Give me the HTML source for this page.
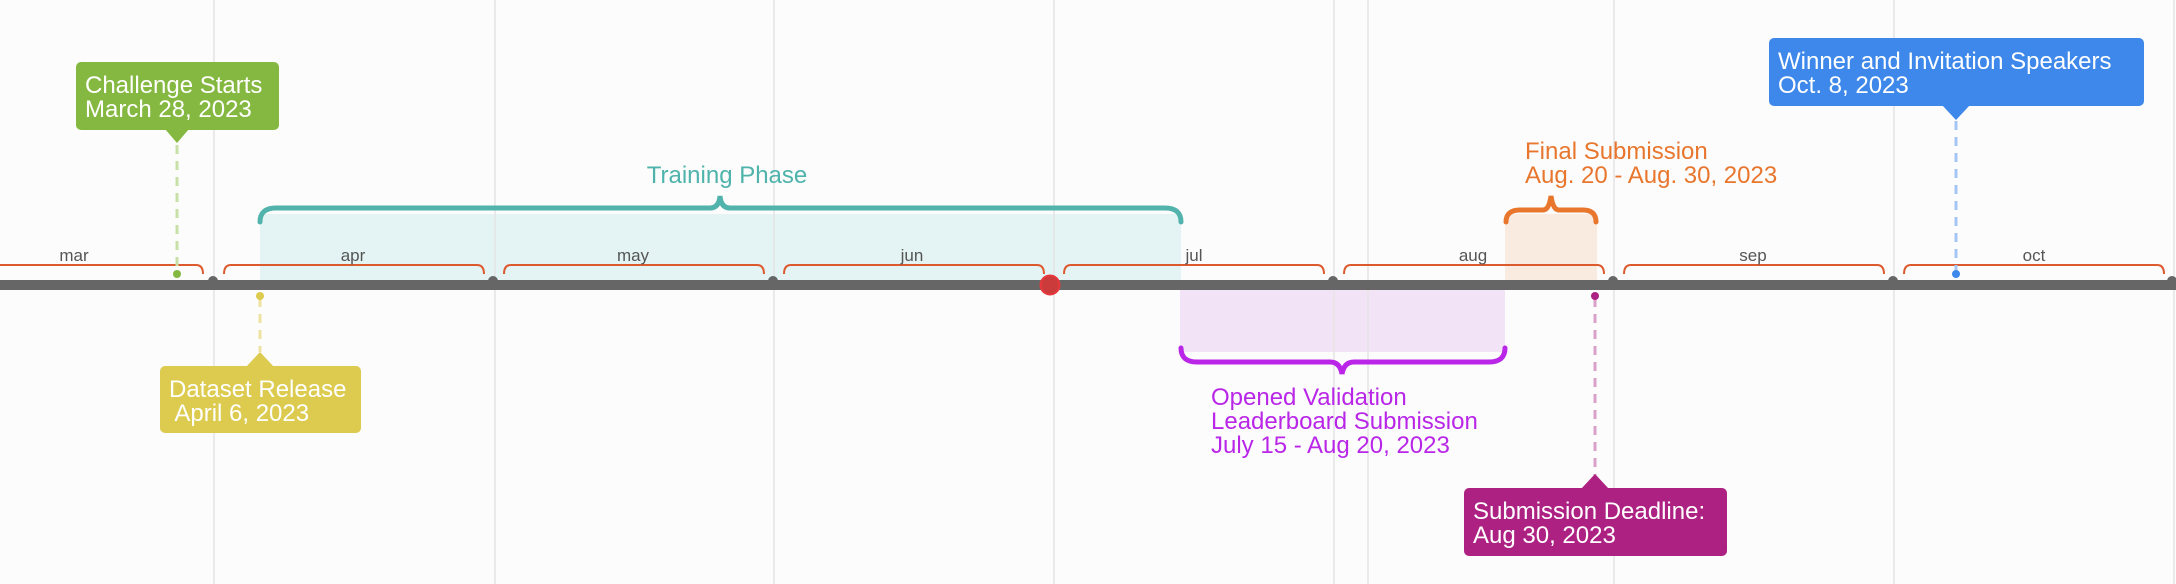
<!DOCTYPE html>
<html><head><meta charset="utf-8"><style>
html,body{margin:0;padding:0;background:#fcfcfc;}
svg{display:block}
text{font-family:"Liberation Sans",sans-serif;}
</style></head><body>
<svg width="2176" height="584" viewBox="0 0 2176 584" xmlns="http://www.w3.org/2000/svg">
<rect width="2176" height="584" fill="#fcfcfc"/>
<!-- fills -->
<rect x="260" y="214" width="921" height="66" fill="#e4f4f4"/>
<rect x="1505" y="214" width="92" height="66" fill="#f9ebe0"/>
<rect x="1180" y="290" width="325" height="62" fill="#f2e3f7"/>
<!-- grid -->
<g stroke="#e4e4e4" stroke-width="1.5">
<line x1="214" y1="0" x2="214" y2="584"/><line x1="495" y1="0" x2="495" y2="584"/>
<line x1="774" y1="0" x2="774" y2="584"/><line x1="1054" y1="0" x2="1054" y2="584"/>
<line x1="1334" y1="0" x2="1334" y2="584"/><line x1="1368" y1="0" x2="1368" y2="584"/>
<line x1="1614" y1="0" x2="1614" y2="584"/><line x1="1894" y1="0" x2="1894" y2="584"/>
<line x1="2174" y1="0" x2="2174" y2="584"/>
</g>
<!-- month braces -->
<g fill="none" stroke="#dd5a2f" stroke-width="2">
<path d="M0 265 H196 Q203 265 203 274"/>
<path d="M224 274 Q224 265 231 265 H477 Q484 265 484 274"/>
<path d="M504 274 Q504 265 511 265 H757 Q764 265 764 274"/>
<path d="M784 274 Q784 265 791 265 H1037 Q1044 265 1044 274"/>
<path d="M1064 274 Q1064 265 1071 265 H1317 Q1324 265 1324 274"/>
<path d="M1344 274 Q1344 265 1351 265 H1597 Q1604 265 1604 274"/>
<path d="M1624 274 Q1624 265 1631 265 H1877 Q1884 265 1884 274"/>
<path d="M1904 274 Q1904 265 1911 265 H2157 Q2164 265 2164 274"/>
</g>
<g font-size="17" fill="#555" text-anchor="middle">
<text x="74" y="261">mar</text><text x="353" y="261">apr</text><text x="633" y="261">may</text>
<text x="912" y="261">jun</text><text x="1194" y="261">jul</text><text x="1473" y="261">aug</text>
<text x="1753" y="261">sep</text><text x="2034" y="261">oct</text>
</g>
<!-- bar -->
<rect x="0" y="280" width="2176" height="10" fill="#666"/>
<g fill="#666">
<circle cx="213" cy="281" r="5"/><circle cx="493" cy="281" r="5"/><circle cx="773" cy="281" r="5"/>
<circle cx="1333" cy="281" r="5"/><circle cx="1613" cy="281" r="5"/><circle cx="1893" cy="281" r="5"/><circle cx="2172" cy="281" r="5"/>
</g>
<circle cx="1050" cy="285" r="9.5" fill="#cc3b3b" stroke="#e8383d" stroke-width="2"/>
<!-- training brace -->
<path d="M260 222 Q260 208 276 208 H710 Q719 208 720 196 Q721 208 730 208 H1165 Q1181 208 1181 222" fill="none" stroke="#52b3ac" stroke-width="5" stroke-linecap="round"/>
<text x="727" y="183" font-size="24" fill="#4db3ab" text-anchor="middle">Training Phase</text>
<!-- final brace -->
<path d="M1506 222 Q1506 210 1520 210 H1543 Q1549 210 1551 196 Q1553 210 1559 210 H1583 Q1596 210 1596 222" fill="none" stroke="#e8762d" stroke-width="5" stroke-linecap="round"/>
<text font-size="24" fill="#e8762d"><tspan x="1525" y="159">Final Submission</tspan><tspan x="1525" y="183">Aug. 20 - Aug. 30, 2023</tspan></text>
<!-- validation brace -->
<path d="M1181 348 Q1181 362 1197 362 H1330 Q1340 362 1342 374 Q1344 362 1354 362 H1489 Q1505 362 1505 348" fill="none" stroke="#b926e8" stroke-width="5" stroke-linecap="round"/>
<text font-size="24" fill="#b926e8"><tspan x="1211" y="405">Opened Validation</tspan><tspan x="1211" y="429">Leaderboard Submission</tspan><tspan x="1211" y="453">July 15 - Aug 20, 2023</tspan></text>
<!-- dashed connectors -->
<g stroke-width="3" stroke-dasharray="9,7" fill="none">
<line x1="177" y1="145" x2="177" y2="272" stroke="#c6e0a6"/>
<line x1="260" y1="298" x2="260" y2="352" stroke="#eee2a0"/>
<line x1="1595" y1="298" x2="1595" y2="476" stroke="#d9a0c9"/>
<line x1="1956" y1="121" x2="1956" y2="272" stroke="#a3c6f5"/>
</g>
<circle cx="177" cy="274" r="4" fill="#84b840"/>
<circle cx="260" cy="296" r="4" fill="#dccb4f"/>
<circle cx="1595" cy="296" r="4" fill="#ad2183"/>
<circle cx="1956" cy="274" r="4" fill="#3d88ea"/>
<!-- boxes -->
<rect x="76" y="62" width="203" height="68" rx="5" fill="#84b840"/>
<path d="M165 129 L177 143 L189 129Z" fill="#84b840"/>
<text font-size="24" fill="#fff"><tspan x="85" y="93">Challenge Starts</tspan><tspan x="85" y="117">March 28, 2023</tspan></text>

<rect x="160" y="366" width="201" height="67" rx="5" fill="#dccb4f"/>
<path d="M246 367 L260 352 L274 367Z" fill="#dccb4f"/>
<text font-size="24" fill="#fff"><tspan x="169" y="397">Dataset Release</tspan><tspan x="169" y="421"> April 6, 2023</tspan></text>

<rect x="1464" y="488" width="263" height="68" rx="5" fill="#ad2183"/>
<path d="M1581 489 L1595 474 L1609 489Z" fill="#ad2183"/>
<text font-size="24" fill="#fff"><tspan x="1473" y="519">Submission Deadline:</tspan><tspan x="1473" y="543">Aug 30, 2023</tspan></text>

<rect x="1769" y="38" width="375" height="68" rx="5" fill="#3d88ea"/>
<path d="M1942 105 L1956 120 L1970 105Z" fill="#3d88ea"/>
<text font-size="24" fill="#fff"><tspan x="1778" y="69">Winner and Invitation Speakers</tspan><tspan x="1778" y="93">Oct. 8, 2023</tspan></text>
</svg>
</body></html>
